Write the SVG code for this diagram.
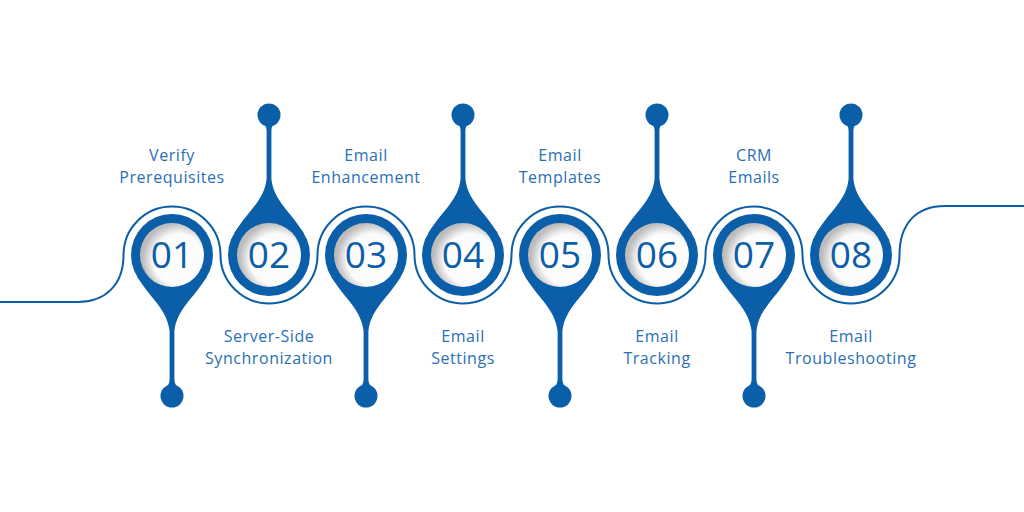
<svg xmlns="http://www.w3.org/2000/svg" width="1024" height="512" viewBox="0 0 1024 512">
<defs>
<radialGradient id="inner" cx="0.6" cy="0.56" r="0.56" fx="0.64" fy="0.6">
<stop offset="0" stop-color="#ffffff"/>
<stop offset="0.72" stop-color="#fbfbfb"/>
<stop offset="1" stop-color="#bcbcbc"/>
</radialGradient>
<g id="ring">
<circle r="41" fill="#0b5ea8"/>
<circle r="32" fill="url(#inner)"/>
</g>
<path id="dropUp" fill="#0b5ea8" d="M-34.8,-21.7 C-20,-45.5 -5,-54 -2.4,-76 L-2.4,-124 C-2.4,-128 -4,-130 -5,-132 L5,-132 C4,-130 2.4,-128 2.4,-124 L2.4,-76 C5,-54 20,-45.5 34.8,-21.7 Z"/>
<path id="dropDown" fill="#0b5ea8" d="M-34.8,21.7 C-20,45.5 -5,54 -2.4,76 L-2.4,124 C-2.4,128 -4,130 -5,132 L5,132 C4,130 2.4,128 2.4,124 L2.4,76 C5,54 20,45.5 34.8,21.7 Z"/>
</defs>
<style>
.num{font-family:"Open Sans","Liberation Sans",sans-serif;font-size:37px;fill:#0b5ea8;text-anchor:middle}
.lbl{font-family:"Open Sans","Liberation Sans",sans-serif;font-size:16px;fill:#2a70b4;text-anchor:middle;letter-spacing:0.55px}
.wave{fill:none;stroke:#0b5ea8;stroke-width:2}
.ball{fill:#0b5ea8}
</style>
<rect width="1024" height="512" fill="#ffffff"/>
<g id="connectors">
<path class="wave" d="M0,302 H78 C104,302 123.5,286 123.5,255 A48.5,48.5 0 0 1 220.5,255 A48.5,48.5 0 0 0 317.5,255 A48.5,48.5 0 0 1 414.5,255 A48.5,48.5 0 0 0 511.5,255 A48.5,48.5 0 0 1 608.5,255 A48.5,48.5 0 0 0 705.5,255 A48.5,48.5 0 0 1 802.5,255 A48.5,48.5 0 0 0 899.5,255 C899.5,224 916,206 945,206 H1024"/>
</g>
<g id="step01" transform="translate(172,255)">
<use href="#dropDown"/><circle class="ball" cx="0" cy="141" r="11.5"/>
<use href="#ring"/>
<text class="num" x="0" y="13">01</text>
<text class="lbl" x="0" y="-94">Verify</text>
<text class="lbl" x="0" y="-72">Prerequisites</text>
</g>
<g id="step02" transform="translate(269,255)">
<use href="#dropUp"/><circle class="ball" cx="0" cy="-140" r="11.5"/>
<use href="#ring"/>
<text class="num" x="0" y="13">02</text>
<text class="lbl" x="0" y="87">Server-Side</text>
<text class="lbl" x="0" y="109">Synchronization</text>
</g>
<g id="step03" transform="translate(366,255)">
<use href="#dropDown"/><circle class="ball" cx="0" cy="141" r="11.5"/>
<use href="#ring"/>
<text class="num" x="0" y="13">03</text>
<text class="lbl" x="0" y="-94">Email</text>
<text class="lbl" x="0" y="-72">Enhancement</text>
</g>
<g id="step04" transform="translate(463,255)">
<use href="#dropUp"/><circle class="ball" cx="0" cy="-140" r="11.5"/>
<use href="#ring"/>
<text class="num" x="0" y="13">04</text>
<text class="lbl" x="0" y="87">Email</text>
<text class="lbl" x="0" y="109">Settings</text>
</g>
<g id="step05" transform="translate(560,255)">
<use href="#dropDown"/><circle class="ball" cx="0" cy="141" r="11.5"/>
<use href="#ring"/>
<text class="num" x="0" y="13">05</text>
<text class="lbl" x="0" y="-94">Email</text>
<text class="lbl" x="0" y="-72">Templates</text>
</g>
<g id="step06" transform="translate(657,255)">
<use href="#dropUp"/><circle class="ball" cx="0" cy="-140" r="11.5"/>
<use href="#ring"/>
<text class="num" x="0" y="13">06</text>
<text class="lbl" x="0" y="87">Email</text>
<text class="lbl" x="0" y="109">Tracking</text>
</g>
<g id="step07" transform="translate(754,255)">
<use href="#dropDown"/><circle class="ball" cx="0" cy="141" r="11.5"/>
<use href="#ring"/>
<text class="num" x="0" y="13">07</text>
<text class="lbl" x="0" y="-94">CRM</text>
<text class="lbl" x="0" y="-72">Emails</text>
</g>
<g id="step08" transform="translate(851,255)">
<use href="#dropUp"/><circle class="ball" cx="0" cy="-140" r="11.5"/>
<use href="#ring"/>
<text class="num" x="0" y="13">08</text>
<text class="lbl" x="0" y="87">Email</text>
<text class="lbl" x="0" y="109">Troubleshooting</text>
</g>
</svg>
